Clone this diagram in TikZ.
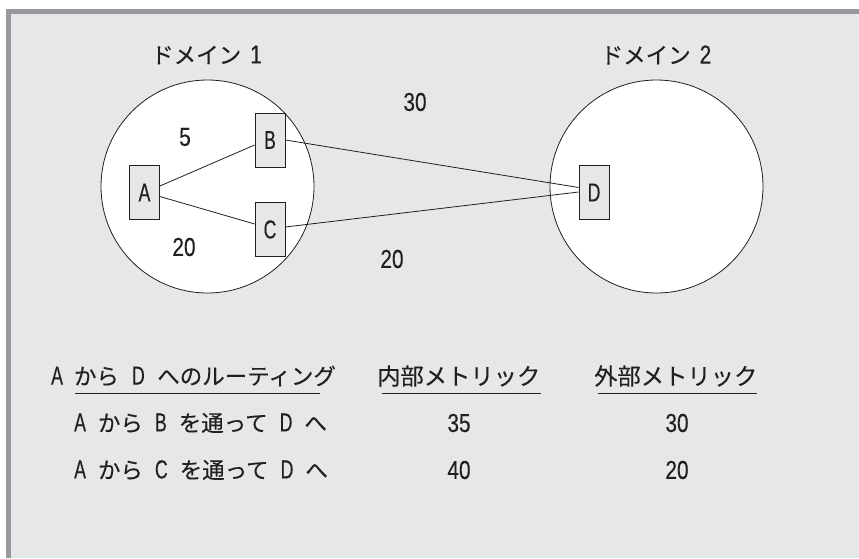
\documentclass[tikz,border=0pt]{standalone}
\usepackage{fontspec}
\usetikzlibrary{calc}
\setmainfont{Noto Sans CJK JP}[FakeBold=0.15]
\newfontfamily\lat[FakeStretch=0.8,FakeBold=0.3]{Liberation Sans}
\newfontfamily\latl[FakeStretch=0.68,FakeBold=0.3]{Liberation Sans}
\newcommand{\LL}[1]{{\lat\fontsize{26}{26}\selectfont #1}}
\newcommand{\LT}[1]{{\latl\fontsize{26}{26}\selectfont #1}}
\definecolor{panel}{HTML}{E6E7E9}
\definecolor{band}{HTML}{98999C}
\definecolor{ink}{HTML}{231F20}
\tikzset{
  txt/.style={text=ink,inner sep=0pt,font=\fontsize{22.5}{22.5}\selectfont},
  lefttxt/.style={txt,anchor=west},
  dom/.style={circle,draw=ink,fill=white,line width=0.8pt,minimum size=213pt,inner sep=0pt},
  router/.style={rectangle,draw=ink,fill=panel,line width=0.8pt,minimum width=30pt,minimum height=54pt,inner sep=0pt,text=ink},
  link/.style={draw=ink,line width=0.8pt},
  tablerule/.style={draw=ink,line width=0.9pt}
}
\begin{document}
\begin{tikzpicture}[x=1pt,y=-1pt]
\useasboundingbox (0,0) rectangle (859,559);
\fill[band] (6,9) rectangle (859,558);
\fill[panel] (11,14.5) rectangle (859,558);
\node[dom] (d1) at (207.5,186.5) {};
\node[dom] (d2) at (656.5,186.5) {};
\node[router] (A) at (144.5,192.5) {\LT{A}};
\node[router] (B) at (270,140) {\LT{B}};
\node[router] (C) at (270,229.5) {\LT{C}};
\node[router] (D) at (594,192.5) {\LT{D}};
\draw[link] ($(A.east)+(0,-6.5)$) -- ($(B.west)+(0,5)$);
\draw[link] ($(A.east)+(0,4)$) -- ($(C.west)+(0,-5.5)$);
\draw[link] (B.east) -- ($(D.west)+(0,-5)$);
\draw[link] ($(C.east)+(0,-2.5)$) -- ($(D.west)+(0,-0.5)$);
\node[lefttxt] (t1) at (151,55) {ドメイン\hspace{9pt}\LL{1}};
\node[lefttxt] (t2) at (600.5,55) {ドメイン\hspace{9pt}\LL{2}};
\node[txt] (m5) at (185,137) {\LL{5}};
\node[txt] (m20a) at (184,247) {\LL{20}};
\node[txt] (m30) at (415,102) {\LL{30}};
\node[txt] (m20b) at (392,259) {\LL{20}};
\node[lefttxt] (h1) at (51,376) {\LT{A}\hspace{11pt}から\hspace{13pt}\LT{D}\hspace{12.5pt}へのルーティング};
\node[lefttxt] (h2) at (377,376) {\fontsize{23.3}{23.3}\selectfont 内部メトリック};
\node[lefttxt] (h3) at (594,376) {\fontsize{23.3}{23.3}\selectfont 外部メトリック};
\coordinate (u1a) at (75,393); \coordinate (u1b) at (320,393);
\coordinate (u2a) at (382,393); \coordinate (u2b) at (541,393);
\coordinate (u3a) at (598,393); \coordinate (u3b) at (757,393);
\draw[tablerule] (u1a) -- (u1b);
\draw[tablerule] (u2a) -- (u2b);
\draw[tablerule] (u3a) -- (u3b);
\node[lefttxt] (r1) at (74,423) {\LT{A}\hspace{12pt}から\hspace{12pt}\LT{B}\hspace{12pt}を通って\hspace{12pt}\LT{D}\hspace{12pt}へ};
\node[lefttxt] (r2) at (74,470) {\LT{A}\hspace{12pt}から\hspace{12pt}\LT{C}\hspace{12pt}を通って\hspace{12pt}\LT{D}\hspace{12pt}へ};
\node[txt] (v1) at (459,423) {\LL{35}};
\node[txt] (v2) at (459,470) {\LL{40}};
\node[txt] (v3) at (677,423) {\LL{30}};
\node[txt] (v4) at (677,470) {\LL{20}};
\end{tikzpicture}
\end{document}
